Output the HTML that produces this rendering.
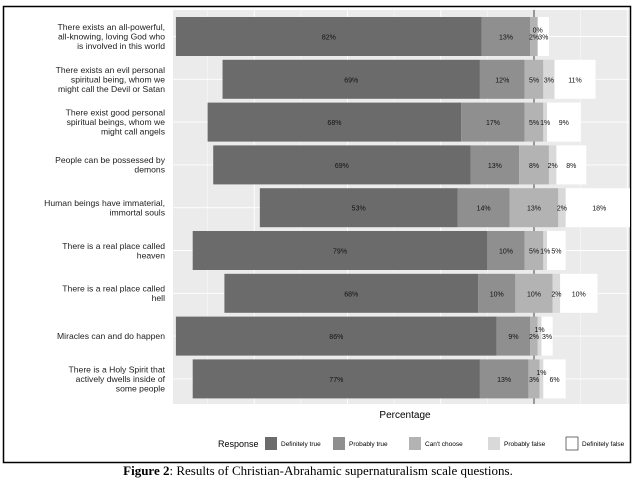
<!DOCTYPE html>
<html><head><meta charset="utf-8"><style>
body{margin:0;background:#fff;width:636px;height:480px;overflow:hidden;font-family:"Liberation Sans",sans-serif}
</style></head><body>
<svg width="636" height="480">
<defs><clipPath id="pc"><rect x="173" y="10" width="457" height="394"/></clipPath></defs>
<rect x="3.5" y="6.5" width="627" height="456" fill="#fff" stroke="#000" stroke-width="1.5"/>
<rect x="173" y="10" width="456" height="394" fill="#ebebeb"/>
<g id="grid"></g>
<g id="bars" clip-path="url(#pc)"></g>
<g id="labels"></g>
<text x="405" y="418" font-size="10" text-anchor="middle" fill="#000">Percentage</text>
<g id="legend" font-size="6.5" fill="#000"></g>
<text x="318" y="475" font-family="Liberation Serif,serif" font-size="13" text-anchor="middle"><tspan font-weight="bold">Figure 2</tspan>: Results of Christian-Abrahamic supernaturalism scale questions.</text>
</svg>
<script>
const questions=[
["There exists an all-powerful,","all-knowing, loving God who","is involved in this world"],
["There exists an evil personal","spiritual being, whom we","might call the Devil or Satan"],
["There exist good personal","spiritual beings, whom we","might call angels"],
["People can be possessed by","demons"],
["Human beings have immaterial,","immortal souls"],
["There is a real place called","heaven"],
["There is a real place called","hell"],
["Miracles can and do happen"],
["There is a Holy Spirit that","actively dwells inside of","some people"]];
const definitelyTrue=[82,69,68,69,53,79,68,86,77];
const probablyTrue=[13,12,17,13,14,10,10,9,13];
const cantChoose=[2,5,5,8,13,5,10,2,3];
const probablyFalse=[0,3,1,2,2,1,2,1,1];
const definitelyFalse=[3,11,9,8,18,5,10,3,6];
const responses=["Definitely true","Probably true","Can't choose","Probably false","Definitely false"];
const colors=["#6b6b6b","#8f8f8f","#b3b3b3","#d9d9d9","#ffffff"];
const NS="http://www.w3.org/2000/svg";
const zeroX=534, pxPer=3.73, row0=36.5, pitch=42.8, barH=39;
const xs=v=>zeroX+v*pxPer;
const ys=i=>row0+i*pitch;
function mk(tag,attrs,parent){const e=document.createElementNS(NS,tag);for(const k in attrs)e.setAttribute(k,attrs[k]);parent.appendChild(e);return e;}
const grid=document.getElementById('grid'),bars=document.getElementById('bars'),labels=document.getElementById('labels'),legend=document.getElementById('legend');
for(let t=-100;t<=25;t+=12.5){const x=xs(t);if(x<173||x>628)continue;
const l=mk('line',{x1:x,x2:x,y1:10,y2:404,stroke:t===0?'#333':'#fff','stroke-width':t%25===0?0.9:0.4},grid);
}
for(let i=0;i<9;i++){const l=mk('line',{x1:173,x2:629,y1:ys(i),y2:ys(i),stroke:'#fff','stroke-width':0.9},grid);
}
const series=[definitelyTrue,probablyTrue,cantChoose,probablyFalse,definitelyFalse];
for(let i=0;i<9;i++){
 let start=-(definitelyTrue[i]+probablyTrue[i]+cantChoose[i]/2);
 for(let s=0;s<5;s++){const v=series[s][i];const x0=xs(start),x1=xs(start+v);
  const r=mk('rect',{x:x0,y:ys(i)-barH/2,width:Math.max(0,x1-x0),height:barH,fill:colors[s]},bars);
  
  const above=(s===3&&v<=1&&cantChoose[i]<=3);
  const t=mk('text',{x:(x0+x1)/2,y:ys(i)+(above?-4:3),'font-size':7,'text-anchor':'middle',fill:'#111'},labels);
  t.textContent=v+'%';
  
  start+=v;}
 const q=questions[i];const n=q.length;
 const g=mk('text',{x:165,'font-size':8.6,'text-anchor':'end',fill:'#222'},labels);
 
 q.forEach((line,k)=>{const ts=mk('tspan',{x:165,y:ys(i)+3+(k-(n-1)/2)*9.5},g);ts.textContent=line;});
}
const rt=mk('text',{x:218,y:447,'font-size':9},legend);rt.textContent='Response';

const lx=[265,333,409,488,566];
responses.forEach((r,k)=>{const b=mk('rect',{x:lx[k],y:437,width:12,height:13,fill:colors[k],stroke:k===4?'#333':'none','stroke-width':0.7},legend);
 
 const t=mk('text',{x:lx[k]+16,y:446},legend);t.textContent=r;
 });
</script>
</body></html>
